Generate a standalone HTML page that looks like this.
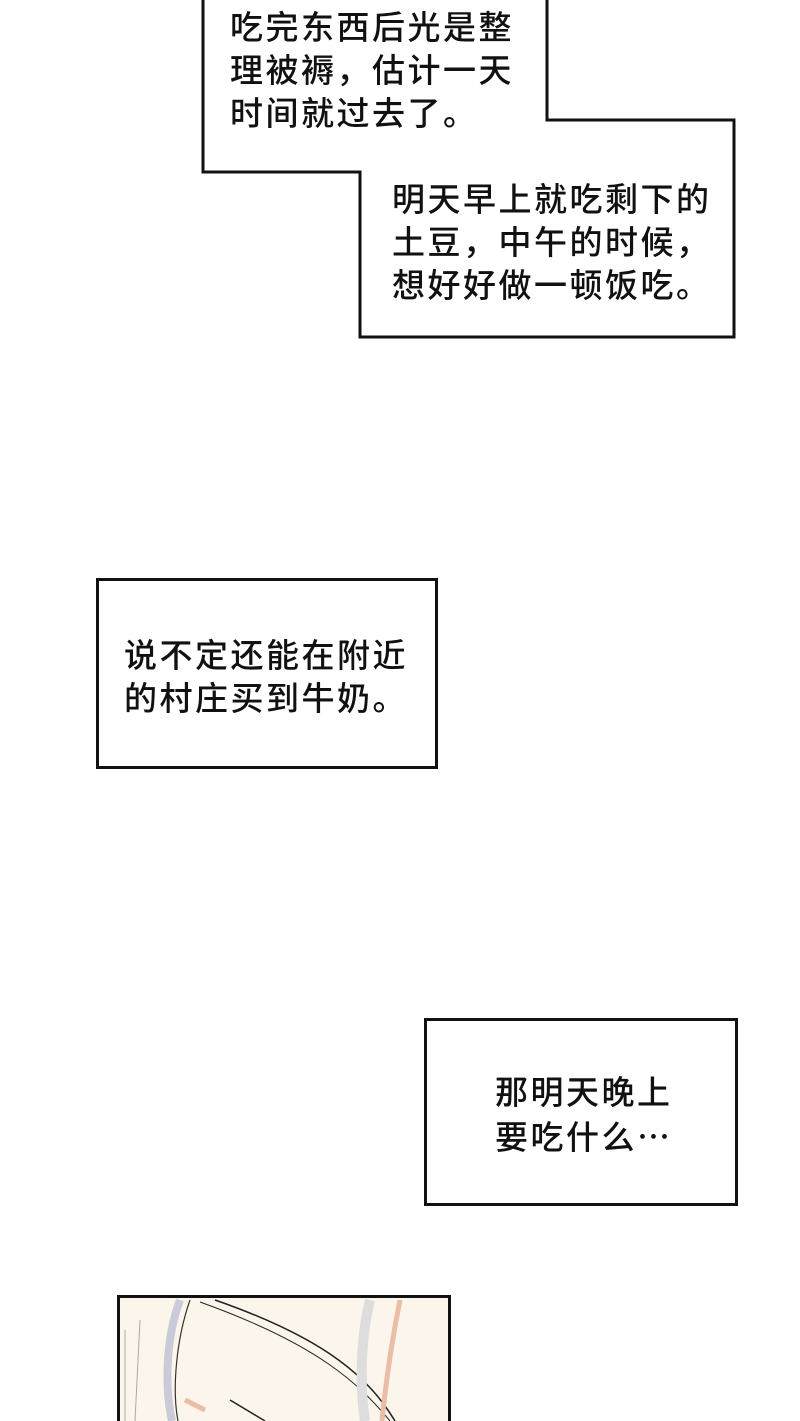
<!DOCTYPE html>
<html><head><meta charset="utf-8"><style>
body{margin:0;width:800px;height:1421px;background:#fff;position:relative;overflow:hidden;font-family:"Liberation Sans","Noto Sans CJK SC",sans-serif;}
.t{position:absolute;font-size:33px;line-height:43px;letter-spacing:2.5px;color:#111;white-space:nowrap;font-weight:500;}
.box{position:absolute;border:3px solid #111;background:#fff;box-sizing:border-box;}
</style></head><body>
<svg width="800" height="1421" style="position:absolute;left:0;top:0">
<polygon points="203,-5 203,172 360,172 360,337 734,337 734,120 547,120 547,-5" fill="#fff" stroke="#111" stroke-width="3"/>
<rect x="118.5" y="1296.5" width="331" height="130" fill="#fbf5ec" stroke="#111" stroke-width="3"/>
<path d="M180,1300 C165,1340 165,1390 172,1421" stroke="#c9ccd8" stroke-width="8" fill="none"/>
<path d="M190,1300 C176,1340 172,1390 178,1421" stroke="#333" stroke-width="1.2" fill="none"/>
<path d="M215,1300 C330,1340 370,1380 395,1421" stroke="#222" stroke-width="1.5" fill="none"/>
<path d="M200,1302 C320,1345 360,1385 390,1421" stroke="#222" stroke-width="1" fill="none"/>
<path d="M370,1300 C360,1340 360,1390 365,1421" stroke="#ddd" stroke-width="10" fill="none"/>
<path d="M400,1300 C390,1350 385,1390 382,1421" stroke="#e9bda6" stroke-width="5" fill="none"/>
<path d="M125,1330 L125,1421 M140,1320 L135,1421" stroke="#aaa" stroke-width="1" fill="none"/>
<path d="M230,1400 L265,1421" stroke="#222" stroke-width="1.5" fill="none"/>
<path d="M185,1400 L205,1410" stroke="#e9bda6" stroke-width="5" fill="none"/>
</svg>
<div class="t" style="left:230px;top:6px">吃完东西后光是整<br>理被褥，估计一天<br>时间就过去了。</div>
<div class="t" style="left:392px;top:178px">明天早上就吃剩下的<br>土豆，中午的时候，<br>想好好做一顿饭吃。</div>
<div class="box" style="left:96px;top:578px;width:342px;height:191px"></div>
<div class="t" style="left:124px;top:634px">说不定还能在附近<br>的村庄买到牛奶。</div>
<div class="box" style="left:424px;top:1018px;width:314px;height:188px"></div>
<div class="t" style="left:495px;top:1071px">那明天晚上<br>要吃什么<span style="font-family:'Noto Sans CJK SC',sans-serif">⋯</span></div>
</body></html>
